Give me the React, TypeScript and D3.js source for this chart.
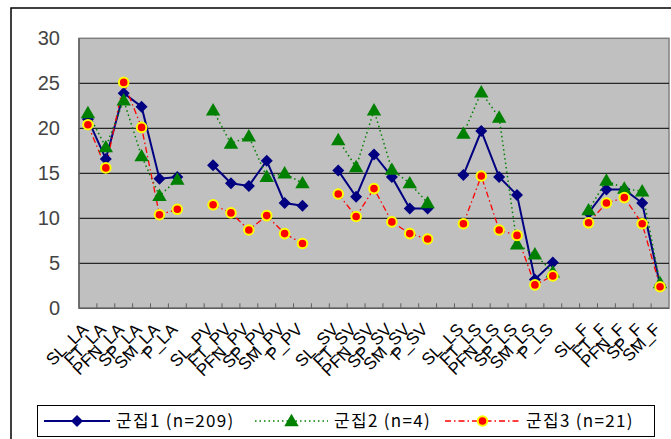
import React from 'react';
import * as d3 from 'd3';

const categories = [
  'SL_LA', 'FT_LA', 'PFN_LA', 'SP_LA', 'SM_LA', 'P_LA', '',
  'SL_PV', 'FT_PV', 'PFN_PV', 'SP_PV', 'SM_PV', 'P_PV', '',
  'SL_SV', 'FT_SV', 'PFN_SV', 'SP_SV', 'SM_SV', 'P_SV', '',
  'SL_LS', 'FT_LS', 'PFN_LS', 'SP_LS', 'SM_LS', 'P_LS', '',
  'SL_F', 'FT_F', 'PFN_F', 'SP_F', 'SM_F'
];

const cluster1 = [
  21.0, 16.6, 23.9, 22.4, 14.4, 14.6, null,
  15.9, 13.9, 13.6, 16.4, 11.7, 11.4, null,
  15.3, 12.4, 17.1, 14.6, 11.1, 11.1, null,
  14.8, 19.7, 14.6, 12.6, 3.2, 5.1, null,
  10.6, 13.2, 13.2, 11.7, 2.6
];
const cluster2 = [
  21.7, 17.9, 23.1, 16.9, 12.5, 14.3, null,
  22.0, 18.3, 19.1, 14.6, 15.0, 13.9, null,
  18.7, 15.7, 22.0, 15.4, 13.9, 11.7, null,
  19.4, 24.0, 21.2, 7.1, 6.0, 4.0, null,
  10.9, 14.2, 13.3, 13.0, 2.8
];
const cluster3 = [
  20.4, 15.6, 25.1, 20.1, 10.4, 11.0, null,
  11.5, 10.6, 8.7, 10.3, 8.3, 7.2, null,
  12.7, 10.2, 13.3, 9.6, 8.3, 7.7, null,
  9.4, 14.7, 8.7, 8.1, 2.6, 3.6, null,
  9.5, 11.7, 12.3, 9.4, 2.4
];
const seriesNames = ['군집1 (n=209)', '군집2 (n=4)', '군집3 (n=21)'];
const yTicks = [0, 5, 10, 15, 20, 25, 30];

const W = 671, H = 439;
const plot = { left: 79, right: 669, top: 38.3, bottom: 308.3 };

export default function App() {
  const x = d3.scaleBand<number>()
    .domain(d3.range(categories.length))
    .range([plot.left, plot.right]);
  const y = d3.scaleLinear().domain([0, 30]).range([plot.bottom, plot.top]);
  const cx = (i: number) => (x(i) as number) + x.bandwidth() / 2;

  const line = d3.line<number | null>()
    .defined(d => d != null)
    .x((d, i) => cx(i))
    .y(d => y(d as number));

  // square turned 45 degrees, like Excel's diamond marker
  const diamond = d3.symbol().type(d3.symbolSquare).size(72)();
  const triangle = d3.symbol().type(d3.symbolTriangle).size(90)();

  const series = [
    { data: cluster1, color: '#000080', width: 2, dash: '', marker: 'diamond' },
    { data: cluster2, color: '#008000', width: 1.5, dash: '1.5,3', marker: 'triangle' },
    { data: cluster3, color: '#ff0000', width: 1.3, dash: '6,3,1.5,3', marker: 'circle' },
  ];

  const marker = (m: string, color: string, tx: number, ty: number, key: any) => {
    if (m === 'diamond') return <path key={key} d={diamond || ''} transform={`translate(${tx},${ty}) rotate(45)`} fill={color} />;
    if (m === 'triangle') return <path key={key} d={triangle || ''} transform={`translate(${tx},${ty + 1})`} fill={color} />;
    return <circle key={key} cx={tx} cy={ty} r={4.8} fill="#ff0000" stroke="#ffff00" strokeWidth={2} />;
  };

  const ticks = d3.range(1, categories.length);
  const legendItems = [
    { x0: 44, tx: 116 },
    { x0: 255, tx: 334 },
    { x0: 445, tx: 526 },
  ];

  return (
    <div style={{ position: 'absolute', left: 0, top: 0 }}>
      <svg width={W} height={H} style={{ display: 'block', background: '#fff' }}>
        <rect x={11} y={8} width={700} height={460} fill="#fff" stroke="#000" strokeWidth={1.5} />
        <rect x={plot.left} y={plot.top} width={plot.right - plot.left} height={plot.bottom - plot.top}
              fill="#c0c0c0" stroke="#808080" strokeWidth={1.5} />
        {yTicks.slice(1, -1).map(t => (
          <line key={t} x1={plot.left} x2={plot.right} y1={y(t)} y2={y(t)} stroke="#000" strokeWidth={1} />
        ))}
        <line x1={plot.left} x2={plot.left} y1={plot.top} y2={plot.bottom} stroke="#606060" strokeWidth={1.5} />
        <line x1={plot.left} x2={plot.right} y1={plot.bottom} y2={plot.bottom} stroke="#606060" strokeWidth={1.5} />
        {ticks.map(i => (
          <line key={i} x1={x(i) as number} x2={x(i) as number} y1={plot.bottom} y2={plot.bottom - 5}
                stroke="#606060" strokeWidth={1} />
        ))}
        {yTicks.map(t => (
          <text key={t} x={60} y={y(t)} dy="0.35em" textAnchor="end" fontFamily="Liberation Sans, Arial"
                fontSize={20} fill="#444">{t}</text>
        ))}
        {categories.map((c, i) => c ? (
          <text key={i} transform={`translate(${cx(i) - 3},${plot.bottom + 18}) rotate(-45)`} textAnchor="end"
                dy="0.35em" fontFamily="Liberation Sans, Arial" fontSize={17} fill="#000">{c}</text>
        ) : null)}
        {series.map((s, si) => (
          <path key={si} d={line(s.data) || ''} fill="none" stroke={s.color} strokeWidth={s.width}
                strokeDasharray={s.dash} />
        ))}
        {series.map((s, si) => s.data.map((d, i) => d == null ? null : marker(s.marker, s.color, cx(i), y(d), `${si}-${i}`)))}
        <rect x={37.5} y={405.5} width={617} height={31} fill="#fff" stroke="#000" strokeWidth={1} />
        {series.map((s, si) => {
          const it = legendItems[si];
          return (
            <g key={si}>
              <line x1={it.x0} x2={it.tx - 6} y1={421} y2={421} stroke={s.color} strokeWidth={s.width}
                    strokeDasharray={s.dash} />
              {marker(s.marker, s.color, (it.x0 + it.tx - 6) / 2, 421, 'm')}
              <text x={it.tx} y={421} dy="0.35em" fontFamily="Noto Sans CJK KR, sans-serif" fontSize={17}
                    letterSpacing={1.3} fill="#000">{seriesNames[si]}</text>
            </g>
          );
        })}
      </svg>
    </div>
  );
}
